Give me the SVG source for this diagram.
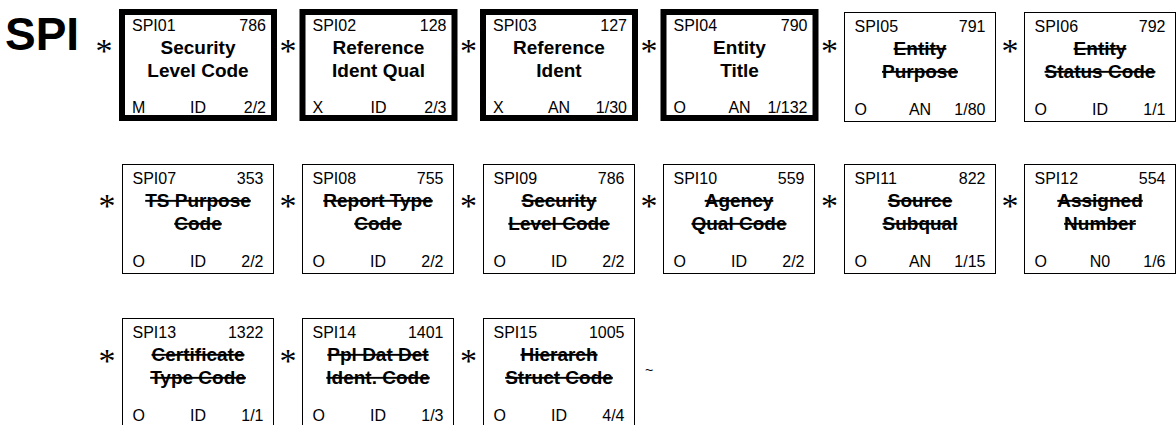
<svg xmlns="http://www.w3.org/2000/svg" width="1176" height="425" viewBox="0 0 1176 425">
<style>
.bx{fill:#fff;stroke:#000;stroke-width:1}
.bxk{fill:#fff;stroke:#000;stroke-width:6}
.t{font-family:"Liberation Sans",Arial,sans-serif;font-size:16px;fill:#000}
.r{text-anchor:end}
.m{text-anchor:middle}
.n{font-family:"Liberation Sans",Arial,sans-serif;font-size:19px;font-weight:bold;text-anchor:middle;fill:#000}
.s{text-decoration:line-through}
.ast{font-family:"Liberation Serif","Times New Roman",serif;font-size:34px;text-anchor:middle;fill:#000}
.big{font-family:"Liberation Sans",Arial,sans-serif;font-size:46px;font-weight:bold;fill:#000}
</style>
<rect width="1176" height="425" fill="#fff"/>
<text class="big" x="5" y="50">SPI</text>
<g id="connectors">
<text class="ast" x="104" y="62">*</text>
<text class="ast" x="288" y="62">*</text>
<text class="ast" x="468.5" y="62">*</text>
<text class="ast" x="649" y="62">*</text>
<text class="ast" x="829.5" y="62">*</text>
<text class="ast" x="1010" y="62">*</text>
<text class="ast" x="107" y="217">*</text>
<text class="ast" x="288" y="217">*</text>
<text class="ast" x="468.5" y="217">*</text>
<text class="ast" x="649" y="217">*</text>
<text class="ast" x="829.5" y="217">*</text>
<text class="ast" x="1010" y="217">*</text>
<text class="ast" x="107" y="372">*</text>
<text class="ast" x="288" y="372">*</text>
<text class="ast" x="468.5" y="372">*</text>
<text class="t" x="645" y="375" style="font-size:14px">~</text>
</g>
<g id="spi01" transform="translate(122,12)">
<rect class="bxk" x="0" y="0" width="152" height="106"/>
<text class="t" x="10" y="19">SPI01</text><text class="t r" x="144" y="19">786</text>
<text class="n" x="76" y="42">Security</text><text class="n" x="76" y="65">Level Code</text>
<text class="t" x="10" y="101">M</text><text class="t m" x="76" y="101">ID</text><text class="t r" x="144" y="101">2/2</text>
</g>
<g id="spi02" transform="translate(302.5,12)">
<rect class="bxk" x="0" y="0" width="152" height="106"/>
<text class="t" x="10" y="19">SPI02</text><text class="t r" x="144" y="19">128</text>
<text class="n" x="76" y="42">Reference</text><text class="n" x="76" y="65">Ident Qual</text>
<text class="t" x="10" y="101">X</text><text class="t m" x="76" y="101">ID</text><text class="t r" x="144" y="101">2/3</text>
</g>
<g id="spi03" transform="translate(483,12)">
<rect class="bxk" x="0" y="0" width="152" height="106"/>
<text class="t" x="10" y="19">SPI03</text><text class="t r" x="144" y="19">127</text>
<text class="n" x="76" y="42">Reference</text><text class="n" x="76" y="65">Ident</text>
<text class="t" x="10" y="101">X</text><text class="t m" x="76" y="101">AN</text><text class="t r" x="144" y="101">1/30</text>
</g>
<g id="spi04" transform="translate(663.5,12)">
<rect class="bxk" x="0" y="0" width="152" height="106"/>
<text class="t" x="10" y="19">SPI04</text><text class="t r" x="144" y="19">790</text>
<text class="n" x="76" y="42">Entity</text><text class="n" x="76" y="65">Title</text>
<text class="t" x="10" y="101">O</text><text class="t m" x="76" y="101">AN</text><text class="t r" x="144" y="101">1/132</text>
</g>
<g id="spi05" transform="translate(844.5,12.5)">
<rect class="bx" x="0" y="0" width="151" height="109"/>
<text class="t" x="10" y="19">SPI05</text><text class="t r" x="141" y="19">791</text>
<text class="n s" x="75.5" y="42">Entity</text><text class="n s" x="75.5" y="65">Purpose</text>
<text class="t" x="10" y="102">O</text><text class="t m" x="75.5" y="102">AN</text><text class="t r" x="141" y="102">1/80</text>
</g>
<g id="spi06" transform="translate(1024.5,12.5)">
<rect class="bx" x="0" y="0" width="151" height="109"/>
<text class="t" x="10" y="19">SPI06</text><text class="t r" x="141" y="19">792</text>
<text class="n s" x="75.5" y="42">Entity</text><text class="n s" x="75.5" y="65">Status Code</text>
<text class="t" x="10" y="102">O</text><text class="t m" x="75.5" y="102">ID</text><text class="t r" x="141" y="102">1/1</text>
</g>
<g id="spi07" transform="translate(122.5,164.5)">
<rect class="bx" x="0" y="0" width="151" height="109"/>
<text class="t" x="10" y="19">SPI07</text><text class="t r" x="141" y="19">353</text>
<text class="n s" x="75.5" y="42">TS Purpose</text><text class="n s" x="75.5" y="65">Code</text>
<text class="t" x="10" y="102">O</text><text class="t m" x="75.5" y="102">ID</text><text class="t r" x="141" y="102">2/2</text>
</g>
<g id="spi08" transform="translate(302.5,164.5)">
<rect class="bx" x="0" y="0" width="151" height="109"/>
<text class="t" x="10" y="19">SPI08</text><text class="t r" x="141" y="19">755</text>
<text class="n s" x="75.5" y="42">Report Type</text><text class="n s" x="75.5" y="65">Code</text>
<text class="t" x="10" y="102">O</text><text class="t m" x="75.5" y="102">ID</text><text class="t r" x="141" y="102">2/2</text>
</g>
<g id="spi09" transform="translate(483.5,164.5)">
<rect class="bx" x="0" y="0" width="151" height="109"/>
<text class="t" x="10" y="19">SPI09</text><text class="t r" x="141" y="19">786</text>
<text class="n s" x="75.5" y="42">Security</text><text class="n s" x="75.5" y="65">Level Code</text>
<text class="t" x="10" y="102">O</text><text class="t m" x="75.5" y="102">ID</text><text class="t r" x="141" y="102">2/2</text>
</g>
<g id="spi10" transform="translate(663.5,164.5)">
<rect class="bx" x="0" y="0" width="151" height="109"/>
<text class="t" x="10" y="19">SPI10</text><text class="t r" x="141" y="19">559</text>
<text class="n s" x="75.5" y="42">Agency</text><text class="n s" x="75.5" y="65">Qual Code</text>
<text class="t" x="10" y="102">O</text><text class="t m" x="75.5" y="102">ID</text><text class="t r" x="141" y="102">2/2</text>
</g>
<g id="spi11" transform="translate(844.5,164.5)">
<rect class="bx" x="0" y="0" width="151" height="109"/>
<text class="t" x="10" y="19">SPI11</text><text class="t r" x="141" y="19">822</text>
<text class="n s" x="75.5" y="42">Source</text><text class="n s" x="75.5" y="65">Subqual</text>
<text class="t" x="10" y="102">O</text><text class="t m" x="75.5" y="102">AN</text><text class="t r" x="141" y="102">1/15</text>
</g>
<g id="spi12" transform="translate(1024.5,164.5)">
<rect class="bx" x="0" y="0" width="151" height="109"/>
<text class="t" x="10" y="19">SPI12</text><text class="t r" x="141" y="19">554</text>
<text class="n s" x="75.5" y="42">Assigned</text><text class="n s" x="75.5" y="65">Number</text>
<text class="t" x="10" y="102">O</text><text class="t m" x="75.5" y="102">N0</text><text class="t r" x="141" y="102">1/6</text>
</g>
<g id="spi13" transform="translate(122.5,318.5)">
<rect class="bx" x="0" y="0" width="151" height="109"/>
<text class="t" x="10" y="19">SPI13</text><text class="t r" x="141" y="19">1322</text>
<text class="n s" x="75.5" y="42">Certificate</text><text class="n s" x="75.5" y="65">Type Code</text>
<text class="t" x="10" y="102">O</text><text class="t m" x="75.5" y="102">ID</text><text class="t r" x="141" y="102">1/1</text>
</g>
<g id="spi14" transform="translate(302.5,318.5)">
<rect class="bx" x="0" y="0" width="151" height="109"/>
<text class="t" x="10" y="19">SPI14</text><text class="t r" x="141" y="19">1401</text>
<text class="n s" x="75.5" y="42">Ppl Dat Det</text><text class="n s" x="75.5" y="65">Ident. Code</text>
<text class="t" x="10" y="102">O</text><text class="t m" x="75.5" y="102">ID</text><text class="t r" x="141" y="102">1/3</text>
</g>
<g id="spi15" transform="translate(483.5,318.5)">
<rect class="bx" x="0" y="0" width="151" height="109"/>
<text class="t" x="10" y="19">SPI15</text><text class="t r" x="141" y="19">1005</text>
<text class="n s" x="75.5" y="42">Hierarch</text><text class="n s" x="75.5" y="65">Struct Code</text>
<text class="t" x="10" y="102">O</text><text class="t m" x="75.5" y="102">ID</text><text class="t r" x="141" y="102">4/4</text>
</g>
</svg>
